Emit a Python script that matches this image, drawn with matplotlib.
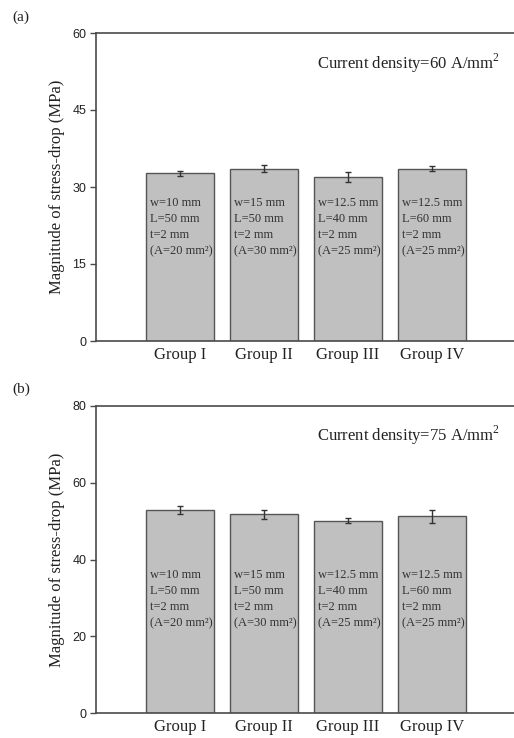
import matplotlib
matplotlib.use("Agg")
import matplotlib.pyplot as plt

groups = ["Group I", "Group II", "Group III", "Group IV"]
dims = ["w=10 mm\nL=50 mm\nt=2 mm\n(A=20 mm²)",
        "w=15 mm\nL=50 mm\nt=2 mm\n(A=30 mm²)",
        "w=12.5 mm\nL=40 mm\nt=2 mm\n(A=25 mm²)",
        "w=12.5 mm\nL=60 mm\nt=2 mm\n(A=25 mm²)"]

drop_60 = [32.7, 33.6, 32.0, 33.6]
err_60 = [0.5, 0.7, 1.0, 0.4]
drop_75 = [52.9, 51.8, 50.1, 51.2]
err_75 = [1.1, 1.2, 0.65, 1.7]

serif = ["Liberation Serif", "DejaVu Serif"]
sans = ["Liberation Sans", "DejaVu Sans"]
plt.rcParams["mathtext.fontset"] = "custom"
plt.rcParams["mathtext.rm"] = "Liberation Serif"

W, H = 514, 738
fig = plt.figure(figsize=(W / 100, H / 100), dpi=100)
fig.patch.set_facecolor("white")

spine_c = "#4a4a4a"


def panel(top_px, bot_px, vals, errs, ymax, step, title, tag, text_y):
    ax = fig.add_axes([96 / W, 1 - bot_px / H, (W - 96) / W, (bot_px - top_px) / H])
    x = list(range(len(groups)))
    ax.bar(x, vals, width=0.81, color="#c0c0c0", edgecolor="#555555", linewidth=1.0,
           yerr=errs, capsize=2.5, error_kw=dict(ecolor="#333333", elinewidth=1.0, capthick=1.0))
    ax.set_xlim(-1, (W - 180) / 84)
    ax.set_ylim(0, ymax)
    ax.set_yticks(range(0, ymax + 1, step))
    ax.set_xticks(x)
    ax.set_xticklabels(groups, family=serif, fontsize=12)
    ax.tick_params(axis="x", length=0, pad=4, colors="#222222")
    ax.tick_params(axis="y", length=4, width=1, color=spine_c, labelsize=9, pad=3)
    for lab in ax.get_yticklabels():
        lab.set_family(sans)
        lab.set_color("#222222")
    ax.spines["right"].set_visible(False)
    for s in ("left", "top", "bottom"):
        ax.spines[s].set_color(spine_c)
        ax.spines[s].set_linewidth(1.2)
    ax.set_ylabel("Magnitude of stress-drop (MPa)", family=serif, fontsize=12,
                  color="#222222", labelpad=5)
    ax.text((500 - 96) / (W - 96), 1 - 30 / (bot_px - top_px), title, transform=ax.transAxes,
            ha="right", va="center", family=serif, fontsize=12, color="#222222")
    for i, d in enumerate(dims):
        ax.text(i - 0.36, text_y, d, ha="left", va="top", family=serif, fontsize=9,
                color="#333333", linespacing=1.45)
    fig.text(12 / W, 1 - (top_px - 16) / H, tag, family=serif, fontsize=11,
             ha="left", va="center", color="#222222")
    return ax


panel(33, 341, drop_60, err_60, 60, 15, "Current density=60 A/mm$^2$", "(a)", 28.0)
panel(405.7, 713.3, drop_75, err_75, 80, 20, "Current density=75 A/mm$^2$", "(b)", 37.5)

fig.savefig("out.png", dpi=100)
